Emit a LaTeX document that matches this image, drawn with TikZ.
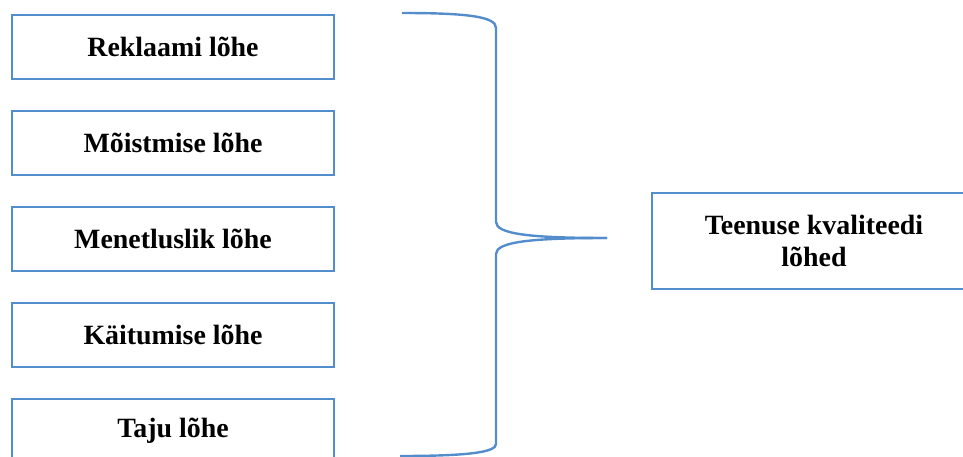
\documentclass[tikz,border=0pt]{standalone}
\usepackage{fontspec}
\setmainfont{Liberation Serif}
\usetikzlibrary{positioning}

\definecolor{lohesin}{RGB}{84,141,204}

\begin{document}
\begin{tikzpicture}[x=1bp, y=-1bp,
    lunk/.style={draw=lohesin, line width=2.8bp, fill=white,
        minimum width=322bp, minimum height=64bp, inner sep=0pt,
        font=\fontsize{28}{33}\selectfont\bfseries, align=center},
    sulg/.style={draw=lohesin, line width=2.4bp}]
    \useasboundingbox (0,0) rectangle (963,457);

    % Lõhed vasakul
    \node[lunk] (reklaam) at (173,47) {Reklaami lõhe};
    \node[lunk, below=29.2bp of reklaam] (moistmine) {Mõistmise lõhe};
    \node[lunk, below=29.2bp of moistmine] (menetlus) {Menetluslik lõhe};
    \node[lunk, below=29.2bp of menetlus] (kaitumine) {Käitumise lõhe};
    \node[lunk, below=29.2bp of kaitumine] (taju) {Taju lõhe};

    % Kokkuvõttev kast paremal
    \node[lunk, minimum width=324bp, minimum height=96bp] (kvaliteet) at (814,241)
        {Teenuse kvaliteedi\\lõhed};

    % Looksulg
    \coordinate (sulg-yl) at (402,13);
    \coordinate (sulg-all) at (400,456);
    \coordinate (sulg-tipp) at (607,238);
    \draw[sulg] (sulg-yl) .. controls (470,13) and (496,17) .. (496,28)
        -- (496,222) .. controls (496,234) and (530,238) .. (sulg-tipp);
    \draw[sulg] (sulg-tipp) .. controls (530,238) and (496,242) .. (496,254)
        -- (496,444) .. controls (496,452) and (470,456) .. (sulg-all);
\end{tikzpicture}
\end{document}
